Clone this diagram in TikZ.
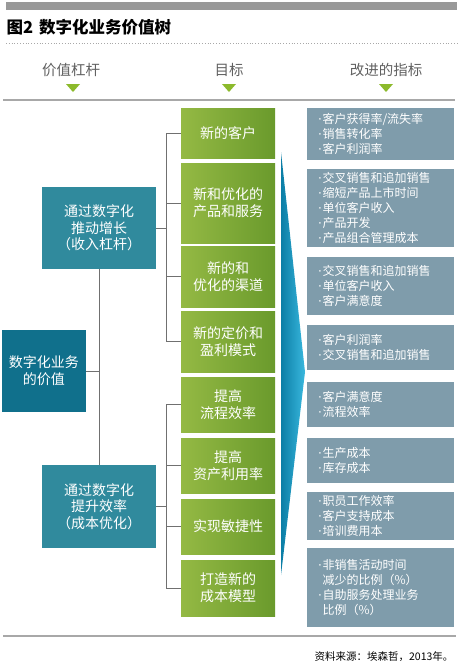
\documentclass[tikz,border=0pt]{standalone}
\usepackage{fontspec}
\setmainfont{Noto Sans CJK SC}
\newfontfamily\dotfont{DejaVu Sans}
\newcommand{\itm}{\makebox[4.5pt][l]{\dotfont ·}}
\newcommand{\itmskip}{\hspace*{4.5pt}}
\usepackage{tikz}
\usetikzlibrary{calc,positioning}
\definecolor{linegray}{HTML}{707070}
\definecolor{rulegray}{HTML}{A8A8A8}
\definecolor{headgray}{HTML}{606060}
\definecolor{markgreen}{HTML}{8CBA2C}
\definecolor{levteal}{HTML}{308A9D}
\definecolor{rootteal}{HTML}{10708C}
\definecolor{goalL}{HTML}{94B944}
\definecolor{goalR}{HTML}{6A9A2C}
\definecolor{metricgray}{HTML}{7F9CAB}
\definecolor{wedgeL}{HTML}{0B7EA6}
\definecolor{wedgeR}{HTML}{3AB8DE}
\tikzset{
  link/.style={draw=linegray, line width=0.9pt},
  lever/.style={fill=levteal, text=white, align=center, inner sep=0pt,
    minimum width=114pt, font=\fontsize{14}{16.5}\selectfont},
  rootbox/.style={fill=rootteal, text=white, align=center, inner sep=0pt,
    minimum width=84pt, minimum height=82pt, font=\fontsize{14}{17}\selectfont},
  goal/.style={left color=goalL, right color=goalR, text=white, align=center,
    inner sep=0pt, minimum width=94pt, font=\fontsize{14}{17}\selectfont},
  metric/.style={fill=metricgray, text=white, align=left, text width=125pt,
    inner xsep=11pt, inner ysep=0pt, font=\fontsize{12}{14.8}\selectfont},
  head/.style={text=headgray, font=\fontsize{14.5}{16}\selectfont}
}
\begin{document}
\begin{tikzpicture}[x=1pt, y=-1pt]
  \useasboundingbox (0,0) rectangle (462,667);
  % title and header
  \fill[black!40] (6,2) rectangle (457,10);
  \node[anchor=west, font=\fontsize{16.5}{18}\selectfont\bfseries] (title) at (3,27) {图2\hspace{6pt}数字化业务价值树};
  \draw[rulegray, dotted, line width=0.8pt] (6,43) -- (457,43);
  \node[head] (hlever) at (71,70) {价值杠杆};
  \node[head] (hgoal) at (229,70) {目标};
  \node[head] (hmetric) at (386,70) {改进的指标};
  \foreach \x in {73,229,386}
    \fill[markgreen] (\x-7,84) -- (\x+7,84) -- (\x,92) -- cycle;
  \draw[rulegray, line width=1.2pt] (3,100) -- (455,100);

  % levers
  \node[rootbox] (root) at (44,371) {数字化业务\\的价值};
  \node[lever, minimum height=82pt] (lev1) at (99,228) {通过数字化\\推动增长\\（收入杠杆）};
  \node[lever, minimum height=83pt] (lev2) at (99,506.5) {通过数字化\\提升效率\\（成本优化）};

  % goals
  \node[goal, minimum height=50pt] (g1) at (228,133) {新的客户};
  \node[goal, minimum height=80pt] (g2) at (228,203) {新和优化的\\产品和服务};
  \node[goal, minimum height=61pt] (g3) at (228,276.5) {新的和\\优化的渠道};
  \node[goal, minimum height=61pt] (g4) at (228,341.5) {新的定价和\\盈利模式};
  \node[goal, minimum height=55pt] (g5) at (228,404.5) {提高\\流程效率};
  \node[goal, minimum height=55pt] (g6) at (228,465.5) {提高\\资产利用率};
  \node[goal, minimum height=55pt] (g7) at (228,526.5) {实现敏捷性};
  \node[goal, minimum height=56pt] (g8) at (228,588) {打造新的\\成本模型};

  % wedge
  \shade[left color=wedgeL, right color=wedgeR] (281,152) -- (305,372) -- (281,575) -- cycle;

  % metrics
  \node[metric, minimum height=52pt] (m1) at (380.5,134) {\itm 客户获得率/流失率\\\itm 销售转化率\\\itm 客户利润率};
  \node[metric, minimum height=78pt] (m2) at (380.5,208) {\itm 交叉销售和追加销售\\\itm 缩短产品上市时间\\\itm 单位客户收入\\\itm 产品开发\\\itm 产品组合管理成本};
  \node[metric, minimum height=58pt] (m3) at (380.5,286) {\itm 交叉销售和追加销售\\\itm 单位客户收入\\\itm 客户满意度};
  \node[metric, minimum height=45pt] (m4) at (380.5,347.5) {\itm 客户利润率\\\itm 交叉销售和追加销售};
  \node[metric, minimum height=45pt] (m5) at (380.5,404.5) {\itm 客户满意度\\\itm 流程效率};
  \node[metric, minimum height=45pt] (m6) at (380.5,460.5) {\itm 生产成本\\\itm 库存成本};
  \node[metric, minimum height=48pt] (m7) at (380.5,516) {\itm 职员工作效率\\\itm 客户支持成本\\\itm 培训费用本};
  \node[metric, minimum height=79pt] (m8) at (380.5,587.5) {\itm 非销售活动时间\\\itmskip 减少的比例（\%）\\\itm 自助服务处理业务\\\itmskip 比例（\%）};

  % connectors
  \draw[link] (root.east) -| (lev1.south);
  \draw[link] (root.east) -| (lev2.north);
  \foreach \g in {g1,g2,g3,g4}
    \draw[link] (lev1.east) -- ++(10,0) |- (\g.west);
  \foreach \g in {g5,g6,g7,g8}
    \draw[link] (lev2.east) -- ++(10,0) |- (\g.west);

  % footer
  \draw[rulegray, line width=1.2pt] (3,636) -- (456,636);
  \node[anchor=east, font=\fontsize{10.5}{12}\selectfont] (source) at (457,657) {资料来源：埃森哲，2013年。};
\end{tikzpicture}
\end{document}
